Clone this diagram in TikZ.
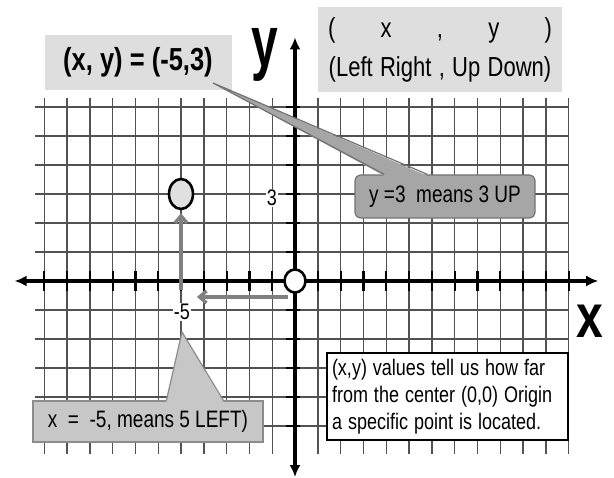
\documentclass[tikz,border=0pt]{standalone}
\usepackage{fontspec}
\usepackage{graphicx}
\setmainfont{Liberation Sans}
\usetikzlibrary{arrows.meta,shapes.geometric}

\newcommand{\talltext}[2][1.25]{\scalebox{1}[#1]{#2}}

\begin{document}
\begin{tikzpicture}[x=1pt, y=-1pt, >={Latex[length=12pt,width=11pt]},
    gridline/.style={black!68, line width=1.4pt},
    axisline/.style={black, line width=3.2pt},
    tickmark/.style={black, line width=2.2pt},
    pointer/.style={black!50, line width=3.4pt, -{Straight Barb[length=7pt,width=12pt]}},
    ptmark/.style={ellipse, draw=black, line width=2.6pt, fill=black!12, minimum width=24pt, minimum height=30pt, inner sep=0pt},
    orgmark/.style={ellipse, draw=black, line width=2.6pt, fill=white, minimum width=21pt, minimum height=23pt, inner sep=0pt},
    numlabel/.style={fill=white, inner sep=1pt, font=\fontsize{18}{20}\selectfont},
    biglabel/.style={inner sep=0pt, font=\fontsize{48}{50}\selectfont\bfseries},
    lightbox/.style={fill=black!13, inner sep=0pt},
    upbox/.style={fill=black!35, draw=black!55, line width=1.2pt, rounded corners=6pt, inner sep=0pt, font=\fontsize{19}{22}\selectfont},
    upwedge/.style={fill=black!35},
    leftbox/.style={fill=black!22, draw=black!45, line width=1.2pt, inner sep=0pt, font=\fontsize{19}{22}\selectfont},
    leftwedge/.style={fill=black!22},
    notebox/.style={fill=white, draw=black, line width=1.8pt, inner xsep=5pt, inner ysep=0pt, font=\fontsize{18}{27}\selectfont}]
    \path[use as bounding box, fill=white] (0,0) rectangle (614,478);

    % grid and axes, one unit per line
    \begin{scope}[shift={(295,281)}, x=22.8pt, y=29pt]
        \draw[gridline, step=1] (-11.4,-5.95) grid (12.02,6.32);
        \foreach \k in {-11,...,-1,1,2,...,12}
            \draw[tickmark] (\k,-0.33) -- (\k,0.33);
        \foreach \k in {-5,...,-1,1,2,...,6}
            \draw[tickmark] (-0.38,\k) -- (0.2,\k);
        \draw[axisline, <->] (-12.3,0) -- (13.3,0);
        \draw[axisline, <->] (0,-6.76) -- (0,8.4);

        \node[orgmark] (org) at (0,0) {};
        \node[ptmark] (pt) at (-5,3) {};
        \node[numlabel] (ythree) at (-1.01,2.86) {\talltext{3}};
        \node[numlabel] (xfive) at (-4.96,-1.07) {\talltext{-5}};

        \coordinate (upfoot) at (-5,-0.31);
        \coordinate (leftfoot) at (-0.31,-0.55);
        \coordinate (lefttip) at (-4.3,-0.55);
        \draw[pointer, shorten >=3pt] (upfoot) -- (pt.south);
        \draw[pointer] (leftfoot) -- (lefttip);
    \end{scope}

    \node[biglabel] (ylab) at (265,55) {\talltext[1.5]{y}};
    \node[biglabel] (xlab) at (590,321) {\talltext[1.28]{x}};

    % boxes at the top
    \node[lightbox, minimum width=187pt, minimum height=55pt] (pairbox) at (138,62.5)
        {\fontsize{25.5}{28}\selectfont\bfseries\talltext{(x, y) = (-5,3)}};
    \node[lightbox, minimum width=244pt, minimum height=85pt, text width=224pt, align=center,
          font=\fontsize{22}{39}\selectfont] (xybox) at (440,49.5)
        {\talltext{(}\hfill\talltext{x}\hfill\talltext{,}\hfill\talltext{y}\hfill\talltext{)}\\
         \talltext{(Left Right , Up Down)}};

    % callout for y
    \node[upbox, minimum width=180pt, minimum height=43pt] (ybox) at (445,196.5)
        {\talltext{y =3\ \ means 3 UP}};
    \coordinate (yptr) at (213,83);
    \fill[upwedge] (yptr) -- ([shift={(30pt,-1.5pt)}]ybox.north west)
        -- ([shift={(73pt,-1.5pt)}]ybox.north west) -- cycle;
    \draw[black!55, line width=1.2pt] ([xshift=30pt]ybox.north west) -- (yptr)
        -- ([xshift=73pt]ybox.north west);

    % callout for x
    \node[leftbox, minimum width=230pt, minimum height=41pt] (xbox) at (148,421.5)
        {\talltext{x\ \ =\ \ -5, means 5 LEFT)}};
    \coordinate (xptr) at (182,332);
    \fill[leftwedge] (xptr) -- ([shift={(134pt,-1.5pt)}]xbox.north west)
        -- ([shift={(191pt,-1.5pt)}]xbox.north west) -- cycle;
    \draw[black!45, line width=1.2pt] ([xshift=134pt]xbox.north west) -- (xptr)
        -- ([xshift=191pt]xbox.north west);

    % note at the bottom right
    \node[notebox, minimum width=241pt, minimum height=87pt, text width=231pt, align=left] (note) at (447.5,396.5)
        {\talltext{(x,y) values tell us how far}\\
         \talltext{from the center (0,0) Origin}\\
         \talltext{a specific point is located.}};
\end{tikzpicture}
\end{document}
